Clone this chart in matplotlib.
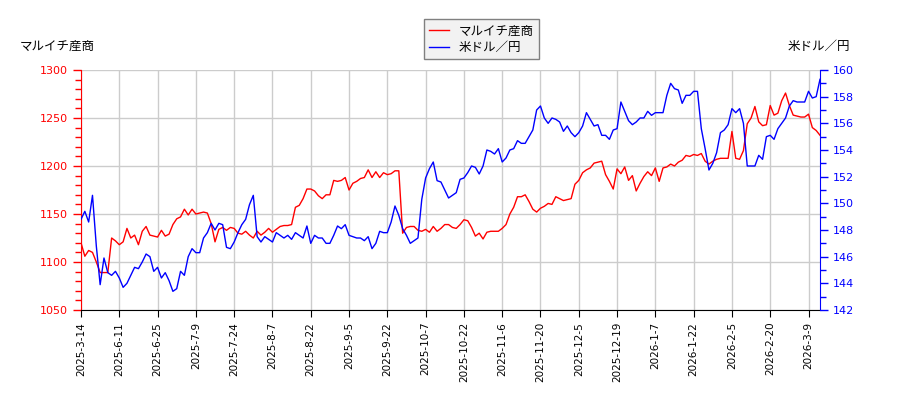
import matplotlib
matplotlib.use("Agg")
import matplotlib.pyplot as plt
from matplotlib.ticker import MultipleLocator, FixedLocator

plt.rcParams['font.family'] = ['DejaVu Sans', 'Noto Sans CJK JP']

series_left_name = "マルイチ産商"
series_right_name = "米ドル／円"

tick_labels = ["2025-3-14", "2025-6-11", "2025-6-25", "2025-7-9", "2025-7-24",
               "2025-8-7", "2025-8-22", "2025-9-5", "2025-9-22", "2025-10-7",
               "2025-10-22", "2025-11-6", "2025-11-20", "2025-12-5", "2025-12-19",
               "2026-1-7", "2026-1-22", "2026-2-5", "2026-2-20", "2026-3-9"]

maruichi = [
    1120, 1106, 1112, 1110, 1100, 1089, 1089, 1089, 1125, 1122,
    1118, 1121, 1135, 1125, 1128, 1118, 1132, 1137, 1128, 1127,
    1126, 1133, 1127, 1129, 1139, 1145, 1147, 1155, 1149, 1155,
    1150, 1151, 1152, 1151, 1140, 1121, 1134, 1136, 1133, 1136,
    1135, 1130, 1129, 1132, 1128, 1125, 1132, 1128, 1131, 1135,
    1131, 1134, 1137, 1138, 1138, 1139, 1157, 1159, 1166, 1176,
    1176, 1174, 1169, 1166, 1170, 1170, 1185, 1184, 1185, 1188,
    1175, 1182, 1184, 1187, 1188, 1196, 1188, 1194, 1188, 1193,
    1191, 1192, 1195, 1195, 1130, 1136, 1137, 1137, 1133, 1132,
    1134, 1131, 1137, 1132, 1135, 1139, 1139, 1136, 1135, 1139,
    1144, 1143, 1136, 1127, 1130, 1124, 1131, 1132, 1132, 1132,
    1135, 1139, 1150, 1157, 1168, 1168, 1170, 1163, 1155, 1152,
    1156, 1158, 1161, 1160, 1168, 1166, 1164, 1165, 1166, 1181,
    1185, 1193, 1196, 1198, 1203, 1204, 1205, 1191, 1184, 1176,
    1197, 1192, 1199, 1185, 1190, 1174, 1182, 1189, 1194, 1190,
    1198, 1184, 1198, 1199, 1202, 1200, 1204, 1206, 1211, 1210,
    1212, 1211, 1213, 1205, 1202, 1205, 1207, 1208, 1208, 1208,
    1236, 1208, 1207, 1216, 1244, 1250, 1262, 1246, 1242, 1243,
    1263, 1253, 1255, 1268, 1276, 1263, 1253, 1252, 1251, 1251,
    1254, 1240, 1237, 1232,
]

usdjpy = [
    148.8, 149.4, 148.6, 150.6, 146.8, 143.9, 145.9, 144.8, 144.6, 144.9,
    144.4, 143.7, 144.0, 144.6, 145.2, 145.1, 145.6, 146.2, 146.0, 144.9,
    145.2, 144.4, 144.8, 144.2, 143.4, 143.6, 144.9, 144.6, 146.0, 146.6,
    146.3, 146.3, 147.4, 147.8, 148.5, 148.0, 148.5, 148.4, 146.7, 146.6,
    147.1, 147.8, 148.4, 148.8, 149.9, 150.6, 147.5, 147.1, 147.5, 147.3,
    147.1, 147.8, 147.6, 147.4, 147.6, 147.3, 147.8, 147.6, 147.4, 148.3,
    147.0, 147.6, 147.4, 147.4, 147.0, 147.0, 147.6, 148.3, 148.1, 148.4,
    147.6, 147.5, 147.4, 147.4, 147.2, 147.5, 146.6, 147.0, 147.9, 147.8,
    147.8, 148.6, 149.8, 149.1, 148.1, 147.6, 147.0, 147.2, 147.4, 150.3,
    151.9, 152.6, 153.1, 151.7, 151.6, 151.0, 150.4, 150.6, 150.8, 151.8,
    151.9, 152.3, 152.8, 152.7, 152.2, 152.8, 154.0, 153.9, 153.7, 154.1,
    153.1, 153.4, 154.0, 154.1, 154.7, 154.5, 154.5, 155.0, 155.5, 157.0,
    157.3, 156.4, 156.0, 156.4, 156.3, 156.1, 155.4, 155.8, 155.3, 155.0,
    155.3, 155.8, 156.8, 156.3, 155.8, 155.9, 155.1, 155.1, 154.8, 155.5,
    155.6, 157.6, 156.9, 156.2, 155.9, 156.1, 156.4, 156.4, 156.9, 156.6,
    156.8, 156.8, 156.8, 158.1, 159.0, 158.6, 158.5, 157.5, 158.1, 158.1,
    158.4, 158.4, 155.6, 154.1, 152.5, 153.0, 153.8, 155.3, 155.5, 155.9,
    157.1, 156.8, 157.1, 156.0, 152.8, 152.8, 152.8, 153.6, 153.3, 155.0,
    155.1, 154.8, 155.6, 156.0, 156.4, 157.3, 157.7, 157.6, 157.6, 157.6,
    158.4, 157.9, 158.0, 159.3,
]

x = list(range(len(maruichi)))
tick_pos = list(range(0, 10 * len(tick_labels), 10))

fig = plt.figure(figsize=(9, 4), dpi=100)
ax = fig.add_axes([81 / 900, 1 - 310 / 400, (820 - 81) / 900, 240 / 400])
ax2 = ax.twinx()

l1, = ax.plot(x, maruichi, color='#ff0000', lw=1.0, label=series_left_name)
l2, = ax2.plot(x, usdjpy, color='#0000ff', lw=1.0, label=series_right_name)

ax.set_xlim(0, len(maruichi) - 1)
ax.set_ylim(1050, 1300)
ax2.set_ylim(142, 160)

ax.set_xticks(tick_pos)
ax.set_xticklabels(tick_labels, rotation=90, fontsize=7.5)
ax.yaxis.set_major_locator(MultipleLocator(50))
ax.yaxis.set_minor_locator(MultipleLocator(10))
ax2.yaxis.set_major_locator(MultipleLocator(2))
ax2.yaxis.set_minor_locator(MultipleLocator(1))

ax.grid(True, color='#cccccc', lw=1.0)
ax.set_axisbelow(True)

ax.tick_params(axis='y', colors='#ff0000', labelsize=8, length=6, width=1)
ax.tick_params(axis='y', which='minor', colors='#ff0000', length=4, width=1)
ax.tick_params(axis='x', colors='black', labelsize=7.5, length=5)
ax2.tick_params(axis='y', colors='#0000ff', labelsize=8, length=6, width=1)
ax2.tick_params(axis='y', which='minor', colors='#0000ff', length=4, width=1)

for a in (ax, ax2):
    a.spines['top'].set_visible(False)
ax.spines['left'].set_color('#ff0000')
ax.spines['right'].set_visible(False)
ax2.spines['left'].set_visible(False)
ax2.spines['right'].set_color('#0000ff')
ax2.spines['bottom'].set_visible(False)
ax.spines['bottom'].set_color('black')

jp = ['Noto Sans CJK JP', 'DejaVu Sans']
fig.text(20 / 900, 1 - 46 / 400, series_left_name, family=jp, fontsize=9,
         ha='left', va='center')
fig.text(850 / 900, 1 - 46 / 400, series_right_name, family=jp, fontsize=9,
         ha='right', va='center')

leg = fig.legend([l1, l2], [series_left_name, series_right_name],
                 loc='upper center', bbox_to_anchor=(481 / 900, 1 - 13 / 400),
                 prop={'family': jp, 'size': 9}, fancybox=False,
                 facecolor='#f2f2f2', edgecolor='#808080', framealpha=1,
                 handlelength=1.6, borderpad=0.4, labelspacing=0.3)
leg.get_frame().set_linewidth(1.0)

fig.savefig('out.png', dpi=100)
